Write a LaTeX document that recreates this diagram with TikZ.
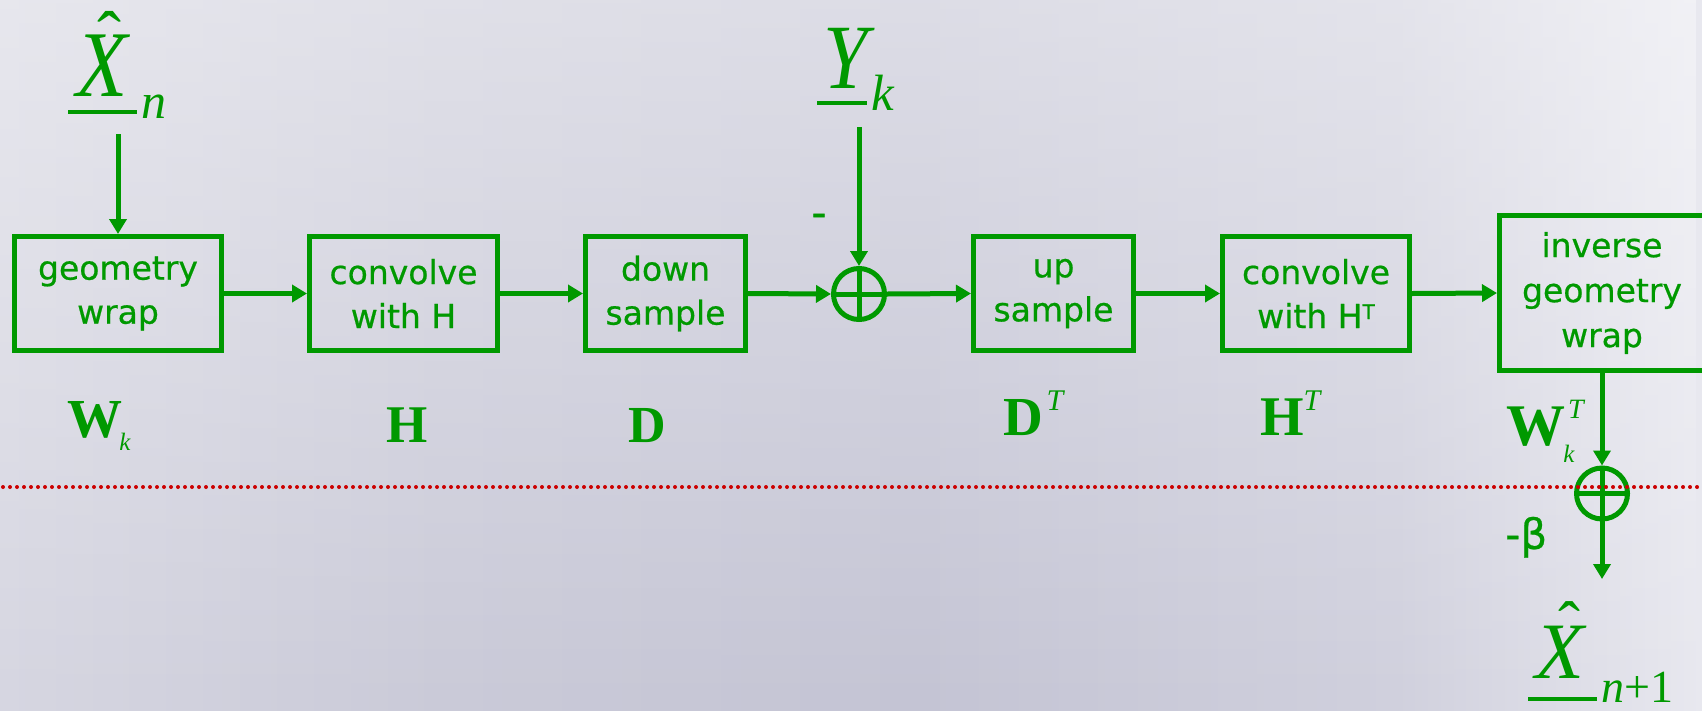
\documentclass[tikz,border=0pt]{standalone}
\usepackage{fontspec}
\setmainfont{Liberation Serif}
\newfontfamily\cfont[FakeBold=0.6]{DejaVu Sans}
\usetikzlibrary{arrows.meta,fadings}
\definecolor{gr}{HTML}{009900}
\definecolor{rd}{HTML}{CC0000}
\definecolor{bgA}{HTML}{D6D6E1}
\definecolor{bgB}{HTML}{CACAD8}
\definecolor{bgC}{HTML}{C4C4D4}
\definecolor{bgD}{HTML}{D0D0DD}
\definecolor{bgE}{HTML}{E8E8EF}
\pgfdeclarehorizontalshading{bgh}{100bp}{color(0bp)=(bgA); color(25bp)=(bgA); color(38bp)=(bgB); color(52bp)=(bgC); color(66bp)=(bgD); color(75bp)=(bgE); color(100bp)=(bgE)}
\tikzfading[name=topfade, top color=transparent!0, middle color=transparent!75, bottom color=transparent!100]
\newcommand{\hatglyph}[3]{\makebox[0pt][l]{\hspace{#1}\raisebox{#2}{\upshape\fontsize{#3}{#3}\selectfont\char"02C6}}}
\tikzset{
  blk/.style={draw=gr, line width=5pt, inner sep=0pt, minimum height=114pt,
    align=center, text=gr, font=\cfont\fontsize{33}{44}\selectfont},
  sumnode/.style={circle, draw=gr, line width=5pt, minimum size=51pt, inner sep=0pt},
  arr/.style={draw=gr, line width=5pt, -{Triangle[length=15pt,width=17pt]}},
  crossline/.style={draw=gr, line width=5pt},
  lbl/.style={text=gr, inner sep=0pt},
  uline/.style={draw=gr, line width=4pt},
}
\begin{document}
\begin{tikzpicture}[x=1pt,y=-1pt]
\useasboundingbox (0,0) rectangle (1702,710);
% background
\shade[shading=bgh] (0,0) rectangle (1702,710);
\fill[white, fill opacity=0.42, path fading=topfade] (0,0) rectangle (1702,710);

% blocks
\node[blk, minimum width=207pt] (b1) at (118,293.5) {geometry\\wrap};
\node[blk, minimum width=188pt] (b2) at (403.5,293.5) {convolve\\with H};
\node[blk, minimum width=160pt] (b3) at (665.5,293.5) {down\\sample};
\node[sumnode] (s1) at (859,294) {};
\node[blk, minimum width=160pt] (b4) at (1053.5,293.5) {up\\sample};
\node[blk, minimum width=187pt] (b5) at (1316,293.5) {convolve\\with H\raisebox{9pt}{\fontsize{20}{20}\selectfont T}};
\node[blk, minimum width=205pt, minimum height=155pt, font=\cfont\fontsize{33}{45}\selectfont] (b6) at (1602,293) {inverse\\geometry\\wrap};
\node[sumnode] (s2) at (1602,493.5) {};

% crosses
\draw[crossline] (s1.north) -- (s1.south) (s1.west) -- (s1.east);
\draw[crossline] (s2.north) -- (s2.south) (s2.west) -- (s2.east);

% input / output points
\coordinate (xin) at (118,134);
\coordinate (yin) at (859,127);
\coordinate (xout) at (1602,579);

% connectors
\draw[arr] (xin) -- (b1.north);
\draw[arr] (b1.east) -- (b2.west);
\draw[arr] (b2.east) -- (b3.west);
\draw[arr] (b3.east) -- (s1.west);
\draw[arr] (yin) -- (s1.north);
\draw[arr] (s1.east) -- (b4.west);
\draw[arr] (b4.east) -- (b5.west);
\draw[arr] (b5.east) -- (b6.west);
\draw[arr] (b6.south) -- (s2.north);
\draw[arr] (s2.south) -- (xout);

% X hat n
\node[lbl, anchor=base, font=\fontsize{84}{84}\selectfont\itshape] (xn) at (102,96) {\hatglyph{21pt}{35pt}{72}\scalebox{1}[1.12]{X}};
\node[lbl, anchor=base, font=\fontsize{50}{50}\selectfont\itshape] (xnsub) at (154,118) {n};
\coordinate (xnu1) at (68,112);
\coordinate (xnu2) at (137,112);
\draw[uline] (xnu1) -- (xnu2);

% Y k
\node[lbl, anchor=base, font=\fontsize{80}{80}\selectfont\itshape] (yk) at (846,88) {\scalebox{1}[1.15]{Y}};
\node[lbl, anchor=base, font=\fontsize{51}{51}\selectfont\itshape] (yksub) at (883,110) {k};
\coordinate (yu1) at (817,103);
\coordinate (yu2) at (867,103);
\draw[uline] (yu1) -- (yu2);
\node[lbl, anchor=base, font=\cfont\fontsize{42}{42}\selectfont] (minus) at (819,227) {-};

% X hat n+1
\node[lbl, anchor=base, font=\fontsize{80}{80}\selectfont\itshape] (xn1) at (1560,678) {\hatglyph{23pt}{31pt}{66}X};
\node[lbl, anchor=base west, font=\fontsize{46}{46}\selectfont] (xn1sub) at (1601,702) {\textit{n}+1};
\coordinate (xn1u1) at (1528,699);
\coordinate (xn1u2) at (1597,699);
\draw[uline] (xn1u1) -- (xn1u2);

% -beta
\node[lbl, anchor=base west, font=\cfont\fontsize{42}{42}\selectfont] (beta) at (1505,549) {-β};

% matrix labels
\node[lbl, anchor=base, font=\fontsize{55}{55}\selectfont\bfseries] (lw) at (95,437) {W};
\node[lbl, anchor=base, font=\fontsize{25}{25}\selectfont\itshape] (lwk) at (125,450) {k};
\node[lbl, anchor=base, font=\fontsize{53}{53}\selectfont\bfseries] (lh) at (407,442) {H};
\node[lbl, anchor=base, font=\fontsize{52}{52}\selectfont\bfseries] (ld) at (647,442) {D};
\node[lbl, anchor=base, font=\fontsize{55}{55}\selectfont\bfseries] (ldt) at (1023.5,435) {D};
\node[lbl, anchor=base, font=\fontsize{30}{30}\selectfont\itshape] (ldtt) at (1055,410) {T};
\node[lbl, anchor=base, font=\fontsize{56}{56}\selectfont\bfseries] (lht) at (1282,435) {H};
\node[lbl, anchor=base, font=\fontsize{30}{30}\selectfont\itshape] (lhtt) at (1312,410) {T};
\node[lbl, anchor=base, font=\fontsize{59}{59}\selectfont\bfseries] (lwt) at (1535.5,445) {W};
\node[lbl, anchor=base, font=\fontsize{28}{28}\selectfont\itshape] (lwtt) at (1576,418) {T};
\node[lbl, anchor=base, font=\fontsize{25}{25}\selectfont\itshape] (lwtk) at (1569,462) {k};

% red dotted line
\coordinate (dl) at (3,487);
\coordinate (dr) at (1702,487);
\draw[rd, line width=4pt, line cap=round, dash pattern=on 0pt off 7pt] (dl) -- (dr);
\end{tikzpicture}
\end{document}
